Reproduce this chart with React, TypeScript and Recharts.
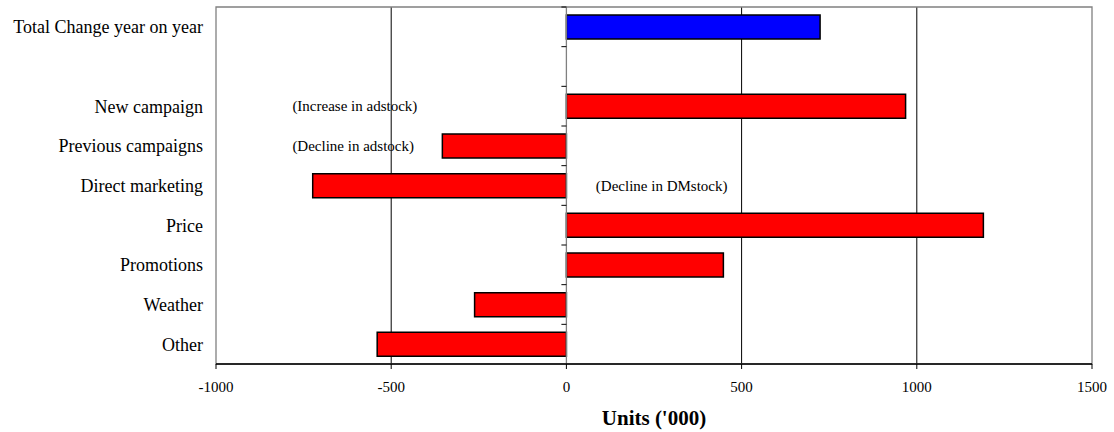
import React from 'react';
import {
  BarChart,
  Bar,
  Cell,
  XAxis,
  YAxis,
  CartesianGrid,
  ReferenceLine,
  ReferenceArea,
  ReferenceDot,
} from 'recharts';

// Contributions to the change in units, year on year ('000)
const categories = [
  'Total Change year on year',
  '',
  'New campaign',
  'Previous campaigns',
  'Direct marketing',
  'Price',
  'Promotions',
  'Weather',
  'Other',
];
const changes = [724, null, 968, -354, -724, 1190, 448, -262, -540];
const xTicks = [-1000, -500, 0, 500, 1000, 1500];

const data = categories.map((name, i) => ({ name, value: changes[i] }));

const FONT = '"Liberation Serif", "Times New Roman", serif';

// zero axis with tick marks at the category boundaries
const ZeroAxis = (props: any) => {
  const { x1, y1, y2 } = props;
  const top = Math.min(y1, y2);
  const bottom = Math.max(y1, y2);
  const step = (bottom - top) / categories.length;
  const marks = [];
  for (let i = 0; i < categories.length; i++) {
    const y = top + i * step;
    marks.push(<line key={i} x1={x1 - 5} y1={y} x2={x1} y2={y} stroke="#000" strokeWidth={1} />);
  }
  return (
    <g>
      <line x1={x1} y1={top} x2={x1} y2={bottom} stroke="#808080" strokeWidth={1.3} />
      {marks}
    </g>
  );
};

const note = (text: string) => ({
  value: text,
  position: 'right' as const,
  offset: 0,
  fontSize: 15,
  fontFamily: FONT,
  fill: '#000',
});

export default function App() {
  return (
    <div style={{ position: 'absolute', left: 0, top: 0, background: '#fff' }}>
      <BarChart
        width={1114}
        height={432}
        data={data}
        layout="vertical"
        margin={{ top: 7, right: 22, left: 0, bottom: 0 }}
      >
        <ReferenceArea x1={-1000} x2={1500} fill="none" stroke="#808080" strokeWidth={1.3} />
        <CartesianGrid horizontal={false} verticalValues={[-500, 500, 1000]} stroke="#000" strokeWidth={1} />
        <XAxis
          type="number"
          domain={[-1000, 1500]}
          ticks={xTicks}
          height={68}
          tickSize={5}
          tickMargin={12}
          axisLine={{ stroke: '#000', strokeWidth: 1.3 }}
          tickLine={{ stroke: '#000' }}
          tick={{ fontSize: 15, fontFamily: FONT, fill: '#000' }}
          label={{
            value: "Units ('000)",
            position: 'insideBottom',
            offset: 7,
            fontSize: 21,
            fontWeight: 'bold',
            fontFamily: FONT,
            fill: '#000',
          }}
        />
        <YAxis
          type="category"
          dataKey="name"
          width={216}
          interval={0}
          axisLine={false}
          tickLine={false}
          tickSize={6}
          tickMargin={7}
          tick={{ fontSize: 18, fontFamily: FONT, fill: '#000' }}
        />
        <Bar dataKey="value" barSize={24} stroke="#000" strokeWidth={1.5} isAnimationActive={false}>
          {data.map((d, i) => (
            <Cell key={i} fill={i === 0 ? '#0000FF' : '#FF0000'} />
          ))}
        </Bar>
        <ReferenceLine x={0} shape={ZeroAxis} />
        <ReferenceDot x={-782} y="New campaign" r={0} fill="none" stroke="none" label={note('(Increase in adstock)')} />
        <ReferenceDot x={-782} y="Previous campaigns" r={0} fill="none" stroke="none" label={note('(Decline in adstock)')} />
        <ReferenceDot x={84} y="Direct marketing" r={0} fill="none" stroke="none" label={note('(Decline in DMstock)')} />
      </BarChart>
    </div>
  );
}
